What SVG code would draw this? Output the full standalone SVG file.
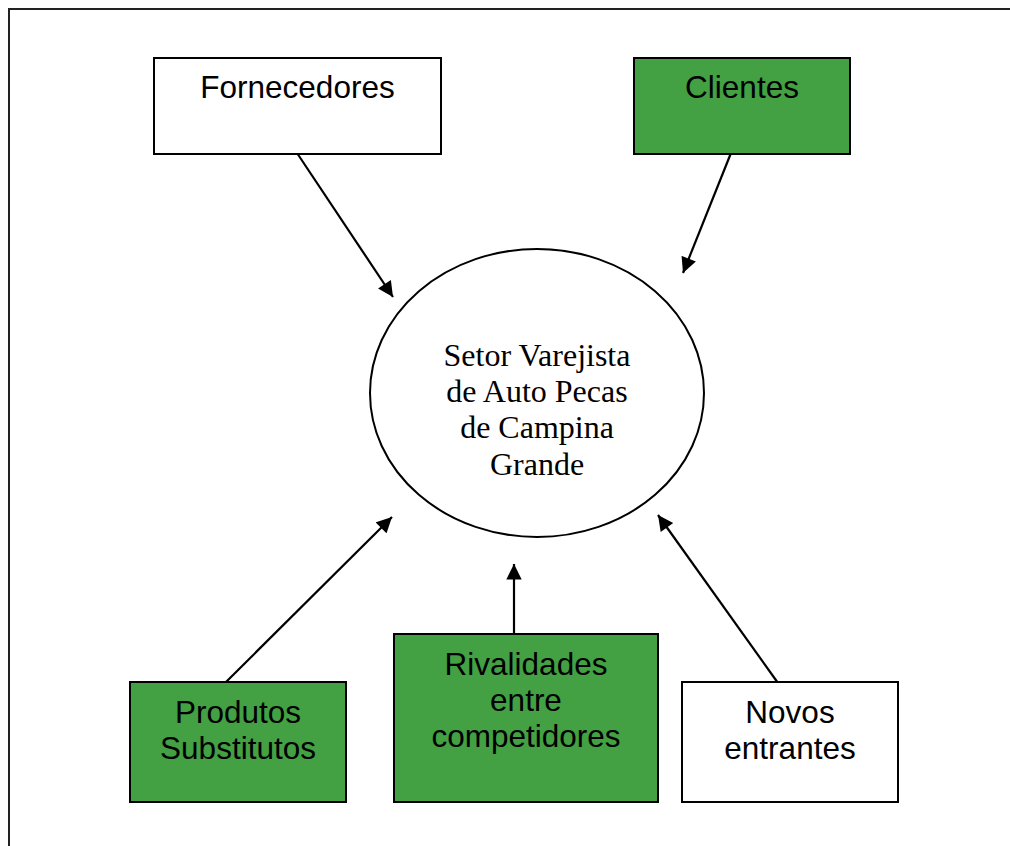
<svg xmlns="http://www.w3.org/2000/svg" width="1010" height="846" viewBox="0 0 1010 846">
<style>
.box{stroke:#000;stroke-width:2}
.w{fill:#fff}
.g{fill:#43A043}
.t{font-family:"Liberation Sans",Arial,sans-serif;font-size:31.5px;fill:#000;text-anchor:middle}
.s{font-family:"Liberation Serif","Times New Roman",serif;font-size:32px;fill:#000;text-anchor:middle}
.c{stroke:#000;stroke-width:2.2;fill:none;marker-end:url(#ah)}
</style>
<defs>
<marker id="ah" viewBox="0 0 10 10" refX="10" refY="5" markerWidth="7.5" markerHeight="7" orient="auto" markerUnits="strokeWidth">
<path d="M0,0 L10,5 L0,10 z" fill="#000"/>
</marker>
</defs>
<rect width="1010" height="846" fill="#fff"/>
<path d="M9,846 V9 H1010" fill="none" stroke="#222" stroke-width="2"/>
<g id="connectors">
<line class="c" x1="297" y1="153" x2="393" y2="297"/>
<line class="c" x1="731" y1="153" x2="683" y2="273"/>
<line class="c" x1="226" y1="682" x2="392" y2="517"/>
<line class="c" x1="514" y1="634" x2="514" y2="564"/>
<line class="c" x1="778" y1="683" x2="658" y2="515"/>
</g>
<g id="center">
<ellipse cx="537" cy="393" rx="167" ry="144" fill="#fff" stroke="#000" stroke-width="2"/>
<text class="s" x="537" y="366">Setor Varejista</text>
<text class="s" x="537" y="402">de Auto Pecas</text>
<text class="s" x="537" y="438">de Campina</text>
<text class="s" x="537" y="475">Grande</text>
</g>
<g id="fornecedores">
<rect class="box w" x="154" y="58" width="287" height="96"/>
<text class="t" x="297.5" y="98">Fornecedores</text>
</g>
<g id="clientes">
<rect class="box g" x="634" y="58" width="216" height="96"/>
<text class="t" x="742" y="98">Clientes</text>
</g>
<g id="produtos">
<rect class="box g" x="130" y="682" width="216" height="120"/>
<text class="t" x="238" y="723">Produtos</text>
<text class="t" x="238" y="759">Substitutos</text>
</g>
<g id="rivalidades">
<rect class="box g" x="394" y="634" width="264" height="168"/>
<text class="t" x="526" y="675">Rivalidades</text>
<text class="t" x="526" y="711">entre</text>
<text class="t" x="526" y="747">competidores</text>
</g>
<g id="novos">
<rect class="box w" x="682" y="682" width="216" height="120"/>
<text class="t" x="790" y="723">Novos</text>
<text class="t" x="790" y="759">entrantes</text>
</g>
</svg>
